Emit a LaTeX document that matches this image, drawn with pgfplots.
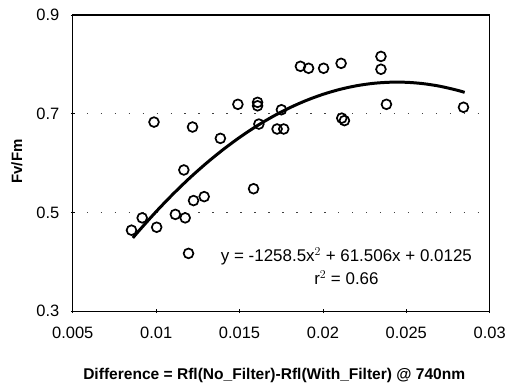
\documentclass[border=0pt]{standalone}
\usepackage{pgfplots}
\pgfplotsset{compat=1.18}
\usepackage{fontspec}
\setmainfont{Liberation Sans}

\begin{document}
\begin{tikzpicture}
\begin{axis}[
  scale only axis,
  width=418pt, height=297pt,
  xmin=0.005, xmax=0.03,
  ymin=0.3, ymax=0.9,
  xtick={0.005,0.01,0.015,0.02,0.025,0.03},
  ytick={0.3,0.5,0.7,0.9},
  scaled x ticks=false,
  xticklabel style={/pgf/number format/fixed, /pgf/number format/precision=3, yshift=-10pt},
  yticklabel style={/pgf/number format/fixed, /pgf/number format/precision=1, /pgf/number format/fixed zerofill, xshift=-8pt},
  /pgf/number format/assume math mode=true,
  tick label style={font=\fontsize{16.5}{18}\selectfont},
  xtick pos=bottom, ytick pos=left,
  tick align=center, major tick length=4pt,
  tick style={line width=0.8pt, black},
  axis line style={line width=1.3pt},
  ymajorgrids,
  major grid style={dash pattern=on 1.4pt off 12.6pt, line width=0.9pt, black!75},
  xlabel={\bfseries Difference = Rfl(No\_Filter)-Rfl(With\_Filter) @ 740nm},
  ylabel={\bfseries Fv/Fm},
  xlabel style={font=\fontsize{15.6}{17}\selectfont, at={(axis description cs:0.5,0)}, anchor=center, yshift=-64pt, xshift=-7pt},
  ylabel style={font=\fontsize{15}{17}\selectfont, at={(axis description cs:-0.134,0.505)}, anchor=center},
  clip=false,
]
% observations
\addplot[only marks, mark=o, mark size=4.9pt, line width=1.7pt] coordinates {
  (0.00852,0.464) (0.00916,0.489) (0.01003,0.470) (0.00987,0.683)
  (0.01115,0.496) (0.01174,0.489) (0.01166,0.586) (0.01194,0.417)
  (0.01224,0.524) (0.01288,0.532) (0.01218,0.673) (0.01385,0.650)
  (0.01490,0.719) (0.01608,0.723) (0.01608,0.716) (0.01616,0.679)
  (0.01584,0.548) (0.01751,0.708) (0.01725,0.669) (0.01765,0.669)
  (0.01865,0.796) (0.01914,0.792) (0.02004,0.792) (0.02109,0.802)
  (0.02113,0.691) (0.02129,0.686) (0.02348,0.816) (0.02348,0.790)
  (0.02381,0.719) (0.02843,0.713)
};
% fitted quadratic, values tabulated
\addplot[smooth, line width=3pt, no markers] coordinates {
  (0.0086,0.4484) (0.009,0.4641) (0.010,0.5017) (0.011,0.5368)
  (0.012,0.5694) (0.013,0.5994) (0.014,0.6269) (0.015,0.6519)
  (0.016,0.6744) (0.017,0.6944) (0.018,0.7119) (0.019,0.7268)
  (0.020,0.7392) (0.021,0.7491) (0.022,0.7565) (0.023,0.7614)
  (0.024,0.7637) (0.025,0.7636) (0.026,0.7609) (0.027,0.7557)
  (0.028,0.7480) (0.0285,0.7432)
};
\node[align=center, font=\fontsize{17}{23.5}\selectfont] at (axis cs:0.02141,0.391)
  {y = -1258.5x$^{2}$ + 61.506x + 0.0125\\r$^{2}$ = 0.66};
\end{axis}
\path ([shift={(-73pt,-74pt)}]current axis.south west) rectangle ([shift={(18pt,15pt)}]current axis.north east);
\end{tikzpicture}
\end{document}
